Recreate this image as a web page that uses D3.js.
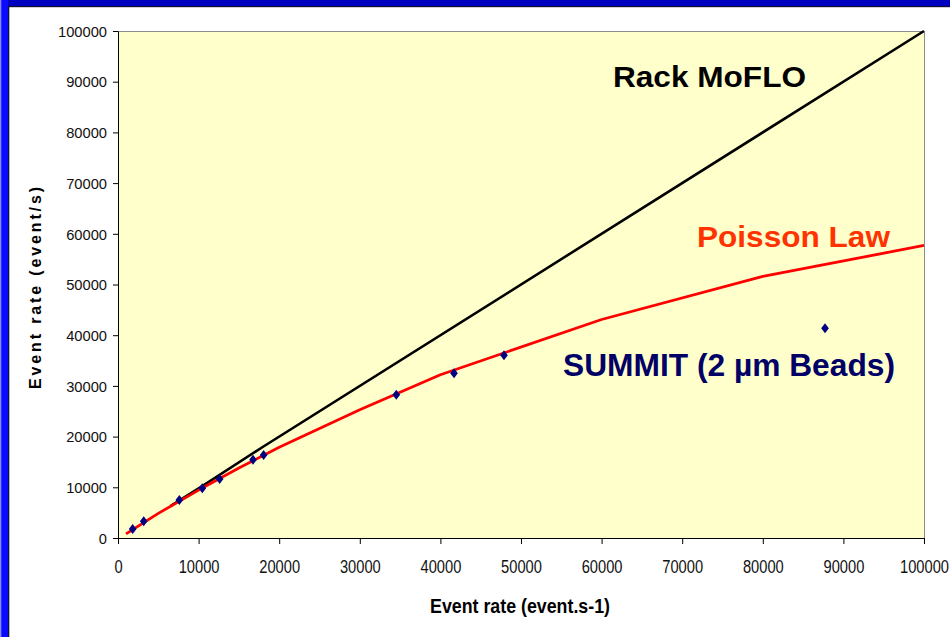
<!DOCTYPE html>
<html>
<head>
<meta charset="utf-8">
<script src="https://cdn.jsdelivr.net/npm/d3@7"></script>
<style>
  html, body { margin: 0; padding: 0; background: #ffffff; }
  svg { display: block; font-family: "Liberation Sans", Arial, sans-serif; }
</style>
</head>
<body>
<svg id="chart" width="950" height="637"></svg>
<script>
// ---- data ----
const xTicks = [0, 10000, 20000, 30000, 40000, 50000, 60000, 70000, 80000, 90000, 100000];
const yTicks = [0, 10000, 20000, 30000, 40000, 50000, 60000, 70000, 80000, 90000, 100000];

// Rack MoFLO
const moflo = [[6500, 6300], [10500, 10300], [18000, 18000], [100000, 100000]];

// Poisson law curve
const poisson = [
  [1000, 800], [5000, 4850], [10000, 9450], [15000, 13800], [20000, 17900],
  [30000, 25300], [40000, 32200], [60000, 43100], [80000, 51600], [100000, 57700]
];

// SUMMIT measurements (2 µm beads)
const summit = [
  [1820, 1780], [3190, 3290], [7610, 7490], [10460, 9800], [12610, 11640],
  [16750, 15450], [18070, 16370], [34530, 28270], [41690, 32480], [47890, 36030],
  [87720, 41360]
];

const labels = {
  moflo: "Rack MoFLO",
  poisson: "Poisson Law",
  summit: "SUMMIT (2 µm Beads)",
  xTitle: "Event rate (event.s-1)",
  yTitle: "Event rate (event/s)"
};

// ---- layout ----
const svg = d3.select("#chart");
const W = 950, H = 637;
const plot = { left: 118, top: 31, right: 924, bottom: 538 };

// frame
svg.append("rect").attr("x", 0).attr("y", 0).attr("width", W).attr("height", H).attr("fill", "#ffffff");
svg.append("rect").attr("x", 0).attr("y", 0).attr("width", W).attr("height", 6).attr("fill", "#0000c0");
svg.append("rect").attr("x", 8).attr("y", 6).attr("width", W - 8).attr("height", 1.2).attr("fill", "#101030");
svg.append("rect").attr("x", 0).attr("y", 0).attr("width", 8).attr("height", H).attr("fill", "#0a0aff");
svg.append("rect").attr("x", 0).attr("y", 0).attr("width", 1.3).attr("height", H).attr("fill", "#8a8aff");
svg.append("rect").attr("x", 8).attr("y", 6).attr("width", 1.3).attr("height", H - 6).attr("fill", "#101030");

const x = d3.scaleLinear().domain([0, 100000]).range([plot.left, plot.right]);
const y = d3.scaleLinear().domain([0, 100000]).range([plot.bottom, plot.top]);

// plot background
svg.append("rect")
  .attr("x", plot.left).attr("y", plot.top)
  .attr("width", plot.right - plot.left).attr("height", plot.bottom - plot.top)
  .attr("fill", "#ffffcc");

// top/right gray border
svg.append("path")
  .attr("d", `M${plot.left},${plot.top + 0.5}H${plot.right + 0.5}V${plot.bottom}`)
  .attr("fill", "none").attr("stroke", "#8c8c8c").attr("stroke-width", 1);

// axes
const xAxis = svg.append("g")
  .attr("transform", `translate(0,${plot.bottom})`)
  .call(d3.axisBottom(x).tickValues(xTicks).tickSize(6).tickSizeOuter(0).tickFormat(d3.format("d")));
xAxis.select(".domain").attr("stroke", "#000");
xAxis.selectAll(".tick line").attr("stroke", "#000");
xAxis.selectAll(".tick text")
  .attr("y", 0).attr("dy", 0)
  .attr("transform", "translate(0,35) scale(1,1.2)")
  .attr("font-size", 14.7)
  .attr("fill", "#111")
  .attr("font-family", "'Liberation Sans', Arial, sans-serif");

const yAxis = svg.append("g")
  .attr("transform", `translate(${plot.left},0)`)
  .call(d3.axisLeft(y).tickValues(yTicks).tickSize(5).tickSizeOuter(0).tickFormat(d3.format("d")));
yAxis.select(".domain").attr("stroke", "#000");
yAxis.selectAll(".tick line").attr("stroke", "#000");
yAxis.selectAll(".tick text")
  .attr("x", -11)
  .attr("dy", "0.36em")
  .attr("font-size", 14.7)
  .attr("fill", "#111")
  .attr("font-family", "'Liberation Sans', Arial, sans-serif");

// lines
const line = d3.line().x(d => x(d[0])).y(d => y(d[1]));

svg.append("path")
  .datum(moflo)
  .attr("d", line)
  .attr("fill", "none")
  .attr("stroke", "#000")
  .attr("stroke-width", 2.6)
  .attr("stroke-linejoin", "round");

svg.append("path")
  .datum(poisson)
  .attr("d", line)
  .attr("fill", "none")
  .attr("stroke", "#ff0000")
  .attr("stroke-width", 2.8)
  .attr("stroke-linejoin", "round");

// markers
const sym = d3.symbol().type(d3.symbolSquare).size(38);
svg.append("g").selectAll("path")
  .data(summit)
  .join("path")
  .attr("d", sym)
  .attr("transform", d => `translate(${x(d[0])},${y(d[1])}) scale(0.88,1.15) rotate(45)`)
  .attr("fill", "#000080");

// annotations
svg.append("text")
  .attr("x", 613).attr("y", 87)
  .attr("font-size", 29).attr("font-weight", "bold")
  .attr("fill", "#000")
  .attr("textLength", 193).attr("lengthAdjust", "spacingAndGlyphs")
  .text(labels.moflo);

svg.append("text")
  .attr("x", 697).attr("y", 247)
  .attr("font-size", 29).attr("font-weight", "bold")
  .attr("fill", "#ff3300")
  .attr("textLength", 193).attr("lengthAdjust", "spacingAndGlyphs")
  .text(labels.poisson);

svg.append("text")
  .attr("x", 563).attr("y", 376)
  .attr("font-size", 31.5).attr("font-weight", "bold")
  .attr("fill", "#000066")
  .attr("textLength", 332).attr("lengthAdjust", "spacingAndGlyphs")
  .text(labels.summit);

// axis titles
svg.append("text")
  .attr("transform", `translate(${(plot.left + plot.right) / 2 - 1},613) scale(1,1.17)`)
  .attr("text-anchor", "middle")
  .attr("font-size", 18).attr("font-weight", "bold")
  .attr("fill", "#000")
  .attr("textLength", 180).attr("lengthAdjust", "spacingAndGlyphs")
  .text(labels.xTitle);

svg.append("text")
  .attr("transform", `translate(41,${(388 + 188) / 2}) rotate(-90)`)
  .attr("text-anchor", "middle")
  .attr("font-size", 16).attr("font-weight", "bold")
  .attr("fill", "#000")
  .attr("textLength", 202).attr("lengthAdjust", "spacing")
  .text(labels.yTitle);
</script>
</body>
</html>
